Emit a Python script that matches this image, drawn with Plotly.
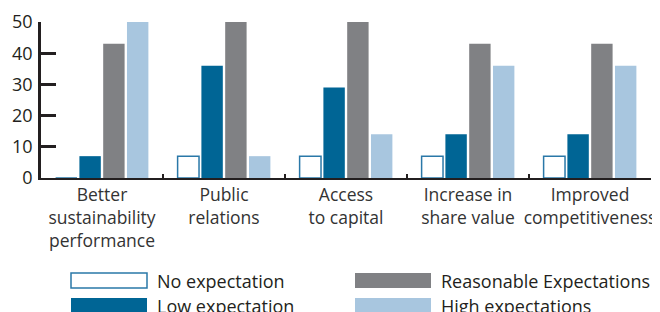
import plotly.graph_objects as go

categories = ["Better<br>sustainability<br>performance", "Public<br>relations", "Access<br>to capital",
              "Increase in<br>share value", "Improved<br>competitiveness"]
no_expectation = [0, 7, 7, 7, 7]
low_expectation = [7, 36, 29, 14, 14]
reasonable_expectations = [43, 50, 50, 43, 43]
high_expectations = [50, 7, 14, 36, 36]
y_ticks = [0, 10, 20, 30, 40, 50]

series = [
    ("No expectation", no_expectation, "white", "#2a78a8", 1.5),
    ("Low expectation", low_expectation, "#006595", "#006595", 0),
    ("Reasonable Expectations", reasonable_expectations, "#808184", "#808184", 0),
    ("High expectations", high_expectations, "#a8c6df", "#a8c6df", 0),
]

FONT = "Open Sans"
TXT = "#231f20"

fig = go.Figure()
for name, vals, fill, line, lw in series:
    fig.add_trace(go.Bar(x=categories, y=vals, name=name, marker=dict(color=fill, line=dict(color=line, width=lw)),
                         showlegend=False))

OFF = 8  # default page body margin
W, H = 660 - OFF, 312 - OFF
ml, mr, mt, mb = 41 - OFF, 9, 22 - OFF, 134
pw, ph = W - ml - mr, H - mt - mb


def px(x):
    return (x - OFF - ml) / pw


def py(y):
    return (H - mb - (y - OFF)) / ph


fig.update_layout(
    width=W, height=H, margin=dict(l=ml, r=mr, t=mt, b=mb, autoexpand=False),
    paper_bgcolor="white", plot_bgcolor="white",
    barmode="group", bargap=0.22, bargroupgap=0.1,
    font=dict(family=FONT, color=TXT),
    xaxis=dict(showline=True, linecolor=TXT, linewidth=2, ticks="inside", tickson="boundaries",
               ticklen=4, tickwidth=2, tickcolor=TXT, tickfont=dict(size=17.5, color="#333333"),
               tickangle=0, automargin=False, showgrid=False, zeroline=False),
    yaxis=dict(range=[0, 50], tickvals=y_ticks, showline=True, linecolor=TXT, linewidth=2.5,
               ticks="inside", ticklen=15, tickwidth=2.5, tickcolor=TXT, showgrid=False, zeroline=False,
               tickfont=dict(size=18, color=TXT), ticklabelstandoff=2, automargin=False),
)

# manual legend
legend_items = [(0, 0), (0, 1), (1, 0), (1, 1)]
col_x = [71, 355]
row_y = [280.5, 305.5]
for (name, vals, fill, line, lw), (c, r) in zip(series, legend_items):
    fig.add_shape(type="rect", xref="paper", yref="paper", x0=px(col_x[c]), x1=px(col_x[c] + 76),
                  y0=py(row_y[r] + 7.5), y1=py(row_y[r] - 7.5),
                  fillcolor=fill, line=dict(color=line, width=lw if lw else 0))
    fig.add_annotation(xref="paper", yref="paper", x=px(col_x[c] + 84), y=py(row_y[r]), text=name,
                       showarrow=False, xanchor="left", yanchor="middle", font=dict(size=18, color=TXT))

fig.write_html("out.html")
